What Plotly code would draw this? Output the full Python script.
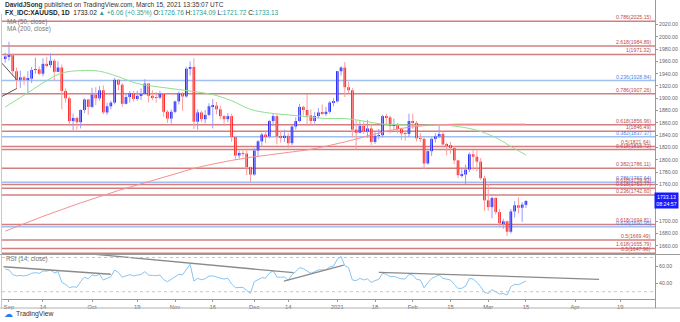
import plotly.graph_objects as go
import pandas as pd

W, H = 680, 322

# ---------------- data ----------------
holidays = ["2020-12-25", "2021-01-01"]
dates = [d + pd.Timedelta(hours=12) for d in pd.bdate_range("2020-08-31", "2021-03-15")
         if d.strftime("%Y-%m-%d") not in holidays]

opens = [1964,
         1968, 1970, 1944, 1930, 1934, 1930, 1932, 1946, 1947, 1940, 1956, 1954, 1961, 1943,
         1950, 1912, 1900, 1863, 1868, 1861, 1881, 1898, 1886, 1906, 1900, 1913, 1877, 1887, 1893,
         1930, 1922, 1891, 1902, 1908, 1899, 1904, 1907, 1924, 1904, 1902, 1901, 1907, 1878, 1867,
         1878, 1895, 1908, 1903, 1948, 1951, 1862, 1877, 1866, 1873, 1887, 1888, 1882, 1871, 1866,
         1871, 1837, 1807, 1811, 1810, 1788, 1776, 1815, 1830, 1841, 1838, 1863, 1871, 1838, 1836,
         1839, 1827, 1854, 1863, 1886, 1881, 1872, 1863, 1871, 1877, 1876, 1878, 1893,
         1895, 1944, 1950, 1918, 1913, 1849, 1844, 1855, 1846, 1851, 1829, 1839, 1840, 1871, 1869,
         1855, 1856, 1850, 1843, 1842, 1863, 1860, 1835, 1834, 1794, 1814, 1834, 1838, 1842, 1825,
         1824, 1819, 1799, 1775, 1776, 1784, 1809, 1805, 1797, 1770, 1734, 1723, 1738, 1715, 1697,
         1700, 1683, 1716, 1726, 1722, 1726.76]
highs = [1974,
         1992, 1973, 1950, 1945, 1937, 1944, 1951, 1966, 1952, 1965, 1967, 1973, 1964, 1960,
         1955, 1916, 1903, 1875, 1870, 1882, 1900, 1899, 1917, 1918, 1920, 1921, 1893, 1896, 1933,
         1931, 1925, 1909, 1912, 1912, 1912, 1916, 1931, 1925, 1913, 1910, 1912, 1909, 1881, 1882,
         1896, 1911, 1910, 1951, 1960, 1965, 1882, 1880, 1881, 1892, 1899, 1894, 1888, 1873, 1876,
         1875, 1839, 1815, 1815, 1818, 1789, 1819, 1832, 1844, 1848, 1865, 1875, 1874, 1848, 1849,
         1844, 1857, 1869, 1891, 1888, 1907, 1882, 1878, 1884, 1890, 1886, 1896, 1900,
         1944, 1952, 1959, 1927, 1917, 1864, 1863, 1863, 1865, 1859, 1845, 1850, 1873, 1875, 1872,
         1867, 1860, 1852, 1847, 1875, 1875, 1863, 1844, 1836, 1818, 1836, 1843, 1855, 1848, 1828,
         1829, 1822, 1800, 1787, 1792, 1812, 1816, 1815, 1803, 1774, 1760, 1740, 1739, 1720, 1704,
         1701, 1720, 1733, 1739, 1731, 1734.09]
lows = [1958,
        1961, 1936, 1916, 1917, 1922, 1906, 1925, 1940, 1938, 1936, 1950, 1950, 1929, 1943,
        1882, 1893, 1855, 1848, 1849, 1851, 1876, 1873, 1884, 1889, 1896, 1874, 1873, 1882, 1890,
        1913, 1886, 1890, 1893, 1895, 1896, 1897, 1906, 1893, 1897, 1893, 1899, 1870, 1860, 1859,
        1876, 1890, 1880, 1901, 1937, 1850, 1849, 1861, 1859, 1871, 1851, 1874, 1866, 1855, 1861,
        1829, 1800, 1802, 1805, 1775, 1764, 1774, 1806, 1823, 1827, 1835, 1855, 1825, 1828, 1829,
        1819, 1824, 1849, 1861, 1872, 1855, 1858, 1859, 1867, 1873, 1871, 1875, 1887,
        1893, 1937, 1902, 1908, 1836, 1817, 1843, 1842, 1836, 1824, 1826, 1833, 1836, 1858, 1843,
        1850, 1843, 1832, 1831, 1837, 1850, 1830, 1829, 1785, 1792, 1806, 1828, 1835, 1822, 1807,
        1810, 1793, 1770, 1771, 1760, 1780, 1783, 1781, 1767, 1717, 1717, 1705, 1711, 1690, 1688,
        1676, 1680, 1706, 1713, 1699, 1721.72]
closes = [1968,
          1970, 1944, 1930, 1934, 1930, 1932, 1946, 1947, 1940, 1956, 1954, 1961, 1943, 1950,
          1912, 1900, 1863, 1868, 1861, 1881, 1898, 1886, 1906, 1900, 1913, 1877, 1887, 1893, 1930,
          1922, 1891, 1902, 1908, 1899, 1904, 1907, 1924, 1904, 1902, 1901, 1907, 1878, 1867, 1878,
          1895, 1908, 1903, 1948, 1951, 1862, 1877, 1866, 1873, 1887, 1888, 1882, 1871, 1866, 1871,
          1837, 1807, 1811, 1810, 1788, 1776, 1815, 1830, 1841, 1838, 1863, 1871, 1838, 1836, 1839,
          1827, 1854, 1863, 1886, 1881, 1872, 1863, 1871, 1877, 1876, 1878, 1893, 1895,
          1944, 1950, 1918, 1913, 1849, 1844, 1855, 1846, 1851, 1829, 1839, 1840, 1871, 1869, 1855,
          1856, 1850, 1843, 1842, 1863, 1860, 1835, 1834, 1794, 1814, 1834, 1838, 1842, 1825, 1824,
          1819, 1799, 1775, 1776, 1784, 1809, 1805, 1797, 1770, 1734, 1723, 1738, 1715, 1697, 1700,
          1683, 1716, 1726, 1722, 1727.07, 1733.13]

rsi_values = [56.5,
              55.5, 50.0, 48.5, 49.0, 48.4, 49.5, 51.5, 52.3, 51.5, 54.2, 54.0, 55.4, 52.0, 53.4,
              41.0, 38.5, 34.7, 35.8, 35.2, 42.0, 47.0, 45.0, 49.5, 48.5, 50.3, 43.7, 46.0, 47.5, 55.4,
              52.5, 47.0, 48.7, 50.0, 48.5, 49.5, 50.3, 53.4, 49.5, 49.0, 48.7, 49.5, 44.0, 41.7, 44.5,
              48.0, 50.3, 49.8, 56.5, 62.0, 42.5, 45.6, 44.0, 45.2, 48.4, 48.5, 47.2, 45.6, 44.8, 45.8,
              39.0, 34.7, 35.3, 35.1, 31.5, 28.1, 41.7, 44.5, 46.4, 46.0, 51.5, 54.6, 47.2, 46.8, 47.3,
              43.5, 50.0, 53.4, 58.1, 57.0, 54.0, 51.5, 53.5, 55.5, 55.5, 55.5, 59.0, 59.8,
              68.0, 71.0, 60.5, 58.0, 43.7, 43.0, 45.6, 43.8, 45.0, 40.9, 43.0, 44.5, 51.5, 50.5, 47.6,
              47.9, 46.5, 45.0, 45.0, 50.3, 49.5, 44.5, 43.8, 34.7, 40.5, 45.6, 47.6, 49.5, 45.6, 44.8,
              43.7, 38.6, 33.9, 34.0, 36.5, 45.6, 44.8, 41.0, 35.9, 29.2, 28.1, 32.5, 29.5, 27.3, 28.0,
              26.1, 35.9, 38.6, 38.2, 40.2, 42.5]

ma_dates = ["2020-08-31", "2020-09-07", "2020-09-14", "2020-09-21", "2020-09-28", "2020-10-05",
            "2020-10-12", "2020-10-19", "2020-10-26", "2020-11-02", "2020-11-09", "2020-11-16",
            "2020-11-23", "2020-11-30", "2020-12-07", "2020-12-14", "2020-12-21", "2020-12-29",
            "2021-01-06", "2021-01-13", "2021-01-20", "2021-01-27", "2021-02-03", "2021-02-10",
            "2021-02-17", "2021-02-24", "2021-03-03", "2021-03-10", "2021-03-15"]
ma50 = [1886, 1905, 1925, 1941, 1945, 1944, 1935, 1924, 1919, 1915, 1911, 1906, 1896, 1882,
        1876, 1873, 1870, 1867, 1867, 1863, 1858, 1857, 1856, 1857, 1854, 1848, 1836, 1818, 1808]
ma200 = [1684, 1696, 1708, 1719, 1730, 1740, 1750, 1759, 1768, 1777, 1786, 1793, 1799, 1804,
         1808, 1812, 1816, 1822, 1829, 1837, 1845, 1851, 1855, 1857, 1858, 1858, 1858, 1858, 1858]

fib_levels = [2025.15, 1984.89, 1971.32, 1928.84, 1907.26, 1856.96, 1846.49, 1837.37, 1821.64,
              1816.72, 1786.11, 1763.64, 1759.93, 1753.77, 1742.60, 1694.81, 1690.95, 1669.49,
              1655.79, 1647.96]
fib_ratios = ["0.786", "2.618", "1", "0.236", "0.786", "0.618", "1", "0.382", "0.5",
              "0.618", "0.382", "0.786", "0.618", "0.618", "0.236", "0.618", "0.618", "0.5",
              "1.618", "0.5"]
fib_kind = ["r", "r", "r", "b", "r", "r", "r", "b", "r",
            "r", "r", "b", "r", "r", "r", "r", "b", "r",
            "r", "r"]

wedge_x = [["2020-08-28 15:00", "2020-09-03 14:00"], ["2020-08-28 15:00", "2020-09-03 14:00"]]
wedge_y = [[1957, 1930], [1903, 1916]]
rsi_trend_x = [["2020-08-31 02:00", "2020-10-08 12:00"],
               ["2020-10-01 14:00", "2020-12-15 22:00"],
               ["2020-12-11 09:00", "2021-01-06 05:00"],
               ["2021-01-19 12:00", "2021-04-09 21:00"]]
rsi_trend_y = [[59.2, 50.4], [74.0, 52.2], [42.5, 61.2], [52.7, 44.5]]

price_ticks = [1660, 1680, 1700, 1740, 1760, 1780, 1800, 1820, 1840, 1860, 1880, 1900,
               1920, 1940, 1960, 1980, 2000, 2020]
rsi_ticks = [40, 60]
tick_dates = ["2020-09-01", "2020-09-14", "2020-10-01", "2020-10-19", "2020-11-02", "2020-11-16",
              "2020-12-01", "2020-12-14", "2021-01-04", "2021-01-18", "2021-02-01", "2021-02-15",
              "2021-03-01", "2021-03-15", "2021-04-01", "2021-04-19"]
tick_text = ["Sep", "14", "Oct", "19", "Nov", "16", "Dec", "14", "2021", "18", "Feb", "15",
             "Mar", "15", "Apr", "19"]

# ---------------- figure ----------------
def px_x(p):
    return p / W

def px_y(p):
    return 1 - p / H

UP, DN = "#1010ff", "#ff1010"
UPW, DNW = "#9a9aff", "#ff9a9a"

up = [c >= o for o, c in zip(opens, closes)]
fig = go.Figure()

for flag, col in ((True, UPW), (False, DNW)):
    xs, ys = [], []
    for d, h, l, u in zip(dates, highs, lows, up):
        if u == flag:
            xs += [d, d, None]
            ys += [l, h, None]
    fig.add_trace(go.Scatter(x=xs, y=ys, mode="lines", line=dict(color=col, width=1),
                             hoverinfo="skip", showlegend=False, xaxis="x", yaxis="y"))

fig.add_trace(go.Bar(
    x=dates,
    base=[min(o, c) for o, c in zip(opens, closes)],
    y=[max(abs(c - o), 0.9) for o, c in zip(opens, closes)],
    marker=dict(color=[UP if u else DN for u in up], line=dict(width=0)),
    width=0.68 * 86400000, showlegend=False, xaxis="x", yaxis="y"))

ma_x = [pd.Timestamp(d) + pd.Timedelta(hours=12) for d in ma_dates]
fig.add_trace(go.Scatter(x=ma_x, y=ma50, mode="lines",
                         line=dict(color="#8fe08f", width=1, shape="spline"),
                         showlegend=False, xaxis="x", yaxis="y"))
fig.add_trace(go.Scatter(x=ma_x, y=ma200, mode="lines",
                         line=dict(color="#f59090", width=1, shape="spline"),
                         showlegend=False, xaxis="x", yaxis="y"))

for xs, ys in zip(wedge_x, wedge_y):
    fig.add_trace(go.Scatter(x=xs, y=ys, mode="lines", line=dict(color="#555555", width=1),
                             showlegend=False, xaxis="x", yaxis="y"))

fig.add_trace(go.Scatter(x=dates, y=rsi_values, mode="lines",
                         line=dict(color="#86c5f5", width=1), showlegend=False,
                         xaxis="x2", yaxis="y2"))
for xs, ys in zip(rsi_trend_x, rsi_trend_y):
    fig.add_trace(go.Scatter(x=xs, y=ys, mode="lines", line=dict(color="#8a8a8a", width=1.3),
                             showlegend=False, xaxis="x2", yaxis="y2"))

shapes = []
annotations = []
FONT = "Liberation Sans"
for lvl, ratio, kind in zip(fib_levels, fib_ratios, fib_kind):
    lc = "rgba(196,84,84,0.75)" if kind == "r" else "rgba(130,170,235,0.75)"
    tc = "#c24b4b" if kind == "r" else "#4f86e8"
    shapes.append(dict(type="line", xref="x domain", yref="y", x0=0, x1=1, y0=lvl, y1=lvl,
                       line=dict(color=lc, width=1.5), layer="below"))
    annotations.append(dict(xref="paper", yref="y", x=px_x(652), y=lvl, xanchor="right",
                            yanchor="bottom", showarrow=False, borderpad=0,
                            text=f"{ratio}({lvl:.2f})",
                            font=dict(size=5.2, color=tc, family=FONT)))

for v in (70, 30):
    shapes.append(dict(type="line", xref="x2 domain", yref="y2", x0=0, x1=1, y0=v, y1=v,
                       line=dict(color="#c4c4c4", width=1, dash="dot")))

# frame lines
shapes += [
    dict(type="line", xref="paper", yref="paper", x0=0, x1=1, y0=px_y(254.5), y1=px_y(254.5),
         line=dict(color="#9a9a9a", width=1)),
    dict(type="line", xref="paper", yref="paper", x0=0, x1=1, y0=px_y(308), y1=px_y(308),
         line=dict(color="#b0b0b0", width=1)),
    dict(type="line", xref="paper", yref="paper", x0=px_x(655.5), x1=px_x(655.5), y0=px_y(0),
         y1=px_y(308), line=dict(color="#9a9a9a", width=1)),
    dict(type="line", xref="paper", yref="paper", x0=px_x(1.5), x1=px_x(1.5), y0=px_y(14),
         y1=px_y(308), line=dict(color="#c8c8c8", width=1)),
]

G = "#2aa198"
annotations += [
    dict(xref="paper", yref="paper", x=px_x(3), y=px_y(5), xanchor="left", yanchor="middle",
         showarrow=False, font=dict(size=6.5, color="#333", family=FONT),
         text="<b>DavidJSong</b> published on TradingView.com, March 15, 2021 13:35:07 UTC"),
    dict(xref="paper", yref="paper", x=px_x(3), y=px_y(12.5), xanchor="left", yanchor="middle",
         showarrow=False, font=dict(size=6.5, color="#222", family=FONT),
         text=("<b>FX_IDC:XAUUSD, 1D</b>  1733.02 "
               f"<span style='color:{G}'>▲ +6.06 (+0.35%)</span> "
               f"O:<span style='color:{G}'>1726.76</span> H:<span style='color:{G}'>1734.09</span> "
               f"L:<span style='color:{G}'>1721.72</span> C:<span style='color:{G}'>1733.13</span>")),
    dict(xref="paper", yref="paper", x=px_x(5), y=px_y(22), xanchor="left", yanchor="middle",
         showarrow=False, font=dict(size=6.3, color="#777", family=FONT), text="MA (50, close)"),
    dict(xref="paper", yref="paper", x=px_x(5), y=px_y(29.5), xanchor="left", yanchor="middle",
         showarrow=False, font=dict(size=6.3, color="#777", family=FONT), text="MA (200, close)"),
    dict(xref="paper", yref="paper", x=px_x(4), y=px_y(259), xanchor="left", yanchor="middle",
         showarrow=False, font=dict(size=6.3, color="#777", family=FONT), text="RSI (14, close)"),
    dict(xref="paper", yref="y", x=px_x(679), y=closes[-1], xanchor="right", yanchor="middle",
         showarrow=False, bgcolor="#1a1aff", borderpad=1, align="center",
         font=dict(size=5.2, color="white", family=FONT), text="1733.13<br>08:24:57",
         width=21),
    dict(xref="paper", yref="paper", x=px_x(2), y=px_y(314), xanchor="left", yanchor="middle",
         showarrow=False, font=dict(size=9, color="#2f7be8", family="DejaVu Sans"), text="☁"),
    dict(xref="paper", yref="paper", x=px_x(14), y=px_y(314), xanchor="left", yanchor="middle",
         showarrow=False, font=dict(size=6.8, color="#333", family=FONT), text="TradingView"),
]

xrange = ["2020-08-28 15:36", "2021-04-30 16:48"]
rb = [dict(bounds=["sat", "mon"]), dict(values=holidays)]
axis_font = dict(size=5.2, color="#666", family=FONT)

fig.update_layout(
    width=W, height=H, template="none",
    margin=dict(l=0, r=0, t=0, b=0),
    paper_bgcolor="white", plot_bgcolor="white",
    barmode="overlay", showlegend=False,
    shapes=shapes, annotations=annotations,
    xaxis=dict(domain=[px_x(2), px_x(655)], anchor="y", type="date", range=xrange,
               rangebreaks=rb, showticklabels=False, showgrid=False, zeroline=False,
               ticks="", showline=False, automargin=False),
    xaxis2=dict(domain=[px_x(2), px_x(655)], anchor="y2", type="date", range=xrange,
                rangebreaks=rb, matches="x", showgrid=False, zeroline=False,
                tickvals=[pd.Timestamp(d) + pd.Timedelta(hours=12) for d in tick_dates],
                ticktext=tick_text, tickfont=dict(size=5.8, color="#666", family=FONT),
                ticks="outside", ticklen=2,
                tickcolor="#999", showline=True, linecolor="#9a9a9a", linewidth=1,
                automargin=False),
    yaxis=dict(domain=[px_y(254), px_y(16)], anchor="x", side="right",
               range=[1646.8, 2033.8], tickvals=price_ticks,
               ticktext=[f"{v:.2f}" for v in price_ticks], tickfont=axis_font,
               ticks="outside", ticklen=2, tickcolor="#999", showgrid=False, zeroline=False,
               showline=False, automargin=False),
    yaxis2=dict(domain=[px_y(299), px_y(255)], anchor="x2", side="right",
                range=[21.5, 72.9], tickvals=rsi_ticks, ticktext=[f"{v:.2f}" for v in rsi_ticks],
                tickfont=axis_font, ticks="outside", ticklen=2, tickcolor="#999",
                showgrid=False, zeroline=False, showline=False, automargin=False),
)

fig.write_html("out.html")
